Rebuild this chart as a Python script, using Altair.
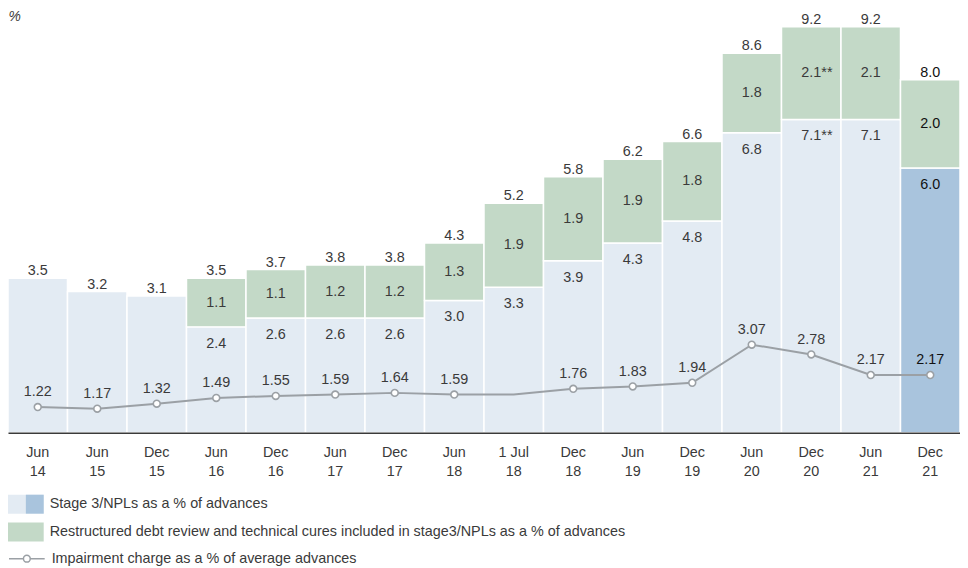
import altair as alt
import pandas as pd

categories = ["Jun 14", "Jun 15", "Dec 15", "Jun 16", "Dec 16", "Jun 17", "Dec 17", "Jun 18",
              "1 Jul 18", "Dec 18", "Jun 19", "Dec 19", "Jun 20", "Dec 20", "Jun 21", "Dec 21"]
stage3 = [3.5, 3.2, 3.1, 2.4, 2.6, 2.6, 2.6, 3.0, 3.3, 3.9, 4.3, 4.8, 6.8, 7.1, 7.1, 6.0]
restructured = [0, 0, 0, 1.1, 1.1, 1.2, 1.2, 1.3, 1.9, 1.9, 1.9, 1.8, 1.8, 2.1, 2.1, 2.0]
totals = [3.5, 3.2, 3.1, 3.5, 3.7, 3.8, 3.8, 4.3, 5.2, 5.8, 6.2, 6.6, 8.6, 9.2, 9.2, 8.0]
label_notes = ["", "", "", "", "", "", "", "", "", "", "", "", "", "**", "", ""]
impairment = [1.22, 1.17, 1.32, 1.49, 1.55, 1.59, 1.64, 1.59, 1.59, 1.76, 1.83, 1.94, 3.07, 2.78, 2.17, 2.17]
impairment_marked = [True, True, True, True, True, True, True, True, False,
                     True, True, True, True, True, True, True]

S3 = "Stage 3/NPLs as a % of advances"
RS = "Restructured debt review and technical cures included in stage3/NPLs as a % of advances"
LATEST = "Stage 3/NPLs (latest)"
IMP = "Impairment charge as a % of average advances"

FONT = "Liberation Sans"
TXT = "#3a3a3a"
DARK = "#111111"
LIGHT_BLUE = "#e3ebf3"
GREEN = "#c3d9c7"
DARK_BLUE = "#a9c4dd"
GREY = "#9ba0a5"

seg_rows = []
for i, c in enumerate(categories):
    s3name = LATEST if i == len(categories) - 1 else S3
    seg_rows.append({"cat": c, "seg": s3name, "y0": 0.0, "y1": stage3[i],
                     "label": (f"{stage3[i]:.1f}{label_notes[i]}" if restructured[i] > 0 else ""),
                     "kind": "s3"})
    if restructured[i] > 0:
        seg_rows.append({"cat": c, "seg": RS, "y0": stage3[i], "y1": stage3[i] + restructured[i],
                         "label": f"{restructured[i]:.1f}{label_notes[i]}", "kind": "rs"})
seg_df = pd.DataFrame(seg_rows)
seg_df["mid"] = (seg_df["y0"] + seg_df["y1"]) / 2
seg_df["dark_key"] = "latest"

tot_df = pd.DataFrame({"cat": categories, "total": totals,
                       "label": [f"{t:.1f}" for t in totals]})
imp_df = pd.DataFrame({"cat": categories, "imp": impairment, "marked": impairment_marked,
                       "label": [f"{v:.2f}" for v in impairment]})
imp_df["series"] = IMP

W, H = 960, 426
ybar = alt.Scale(domain=[0, 9.573], nice=False, zero=False)
yline = alt.Scale(domain=[0.456, 12.99], nice=False, zero=False)

xenc = alt.X("cat:N", sort=categories,
             scale=alt.Scale(paddingInner=0, paddingOuter=0),
             axis=alt.Axis(title=None, ticks=False, tickSize=0, labelAngle=0, labelPadding=13,
                           labelFont=FONT, labelFontSize=14.5, labelColor=TXT, labelLineHeight=19,
                           labelExpr="[slice(datum.label, 0, lastindexof(datum.label, ' ')), slice(datum.label, lastindexof(datum.label, ' ') + 1)]",
                           domainColor="#3a3a3a", domainWidth=1.5, grid=False, zindex=1))

rect_path = "M-1,-0.53H1V0.53H-1Z"
right_half = "M0,-0.53H1V0.53H0Z"
line_sym = "M-1,0H-0.19M0.19,0H1M0.19,0A0.19,0.19 0 1,1 -0.19,0A0.19,0.19 0 1,1 0.19,0Z"

bars = alt.Chart(seg_df).mark_bar(stroke="white", strokeWidth=1.5).encode(
    x=xenc,
    y=alt.Y("y0:Q", scale=ybar,
            axis=alt.Axis(title="%", labels=False, ticks=False, domain=False, grid=False,
                          titleAngle=0, titleX=0, titleY=-1, titleAlign="left", titleBaseline="top",
                          titleFont=FONT, titleFontSize=14, titleFontStyle="italic",
                          titleFontWeight="normal", titleColor=TXT)),
    y2="y1:Q",
    fill=alt.Fill("seg:N", scale=alt.Scale(domain=[S3, RS, LATEST], range=[LIGHT_BLUE, GREEN, DARK_BLUE]),
                  legend=alt.Legend(orient="none", legendX=0, legendY=480, title=None, values=[S3, RS],
                                    symbolType=rect_path, symbolSize=1296, symbolStrokeWidth=0,
                                    rowPadding=-9.5, labelOffset=6, labelFont=FONT, labelFontSize=14.5,
                                    labelColor=TXT, labelLimit=0, padding=0, zindex=0)),
    opacity=alt.Opacity("dark_key:O",
                        scale=alt.Scale(domain=["latest"], range=[1]),
                        legend=alt.Legend(orient="none", legendX=0, legendY=480, title=None,
                                          symbolType=right_half, symbolSize=1296, symbolStrokeWidth=0,
                                          symbolFillColor=DARK_BLUE, symbolOpacity=1,
                                          labelExpr="''", padding=0, zindex=2)),
)

seg_text_cond = alt.condition(alt.datum.cat == "Dec 21", alt.value(DARK), alt.value(TXT))

rs_labels = alt.Chart(seg_df).transform_filter(alt.datum.kind == "rs").mark_text(
    font=FONT, fontSize=14.5, align="left", dx=-10, baseline="middle").encode(
    x=alt.X("cat:N", sort=categories), y=alt.Y("mid:Q", scale=ybar), text="label:N",
    color=seg_text_cond)

s3_labels = alt.Chart(seg_df).transform_filter(
    (alt.datum.kind == "s3") & (alt.datum.label != "")).mark_text(
    font=FONT, fontSize=14.5, align="left", dx=-10, dy=17, baseline="middle").encode(
    x=alt.X("cat:N", sort=categories), y=alt.Y("y1:Q", scale=ybar), text="label:N",
    color=seg_text_cond)

tot_labels = alt.Chart(tot_df).mark_text(
    font=FONT, fontSize=14.5, align="left", dx=-10, dy=-3, baseline="alphabetic").encode(
    x=alt.X("cat:N", sort=categories), y=alt.Y("total:Q", scale=ybar), text="label:N",
    color=seg_text_cond)

bar_layer = alt.layer(bars, rs_labels, s3_labels, tot_labels)

line = alt.Chart(imp_df).mark_line(strokeWidth=2).encode(
    x=alt.X("cat:N", sort=categories),
    y=alt.Y("imp:Q", scale=yline, axis=None),
    stroke=alt.Stroke("series:N", scale=alt.Scale(domain=[IMP], range=[GREY]),
                      legend=alt.Legend(orient="none", legendX=0, legendY=534, title=None,
                                        symbolType=line_sym, symbolSize=1296, symbolStrokeWidth=1.5,
                                        symbolFillColor="white", labelOffset=6, labelFont=FONT,
                                        labelFontSize=14.5, labelColor=TXT, labelLimit=0, padding=0)),
)

points = alt.Chart(imp_df).transform_filter(alt.datum.marked).mark_point(
    shape="circle", filled=True, fill="white", stroke=GREY, strokeWidth=1.6, size=48, opacity=1).encode(
    x=alt.X("cat:N", sort=categories), y=alt.Y("imp:Q", scale=yline, axis=None))

imp_labels = alt.Chart(imp_df).transform_filter(alt.datum.marked).mark_text(
    font=FONT, fontSize=14.5, baseline="middle", dy=-15).encode(
    x=alt.X("cat:N", sort=categories), y=alt.Y("imp:Q", scale=yline, axis=None), text="label:N",
    color=seg_text_cond)

line_layer = alt.layer(line, points, imp_labels)

chart = alt.layer(bar_layer, line_layer).resolve_scale(y="independent").properties(
    width=W, height=H,
    autosize=alt.AutoSizeParams(type="none"),
    padding={"left": 0, "top": 0, "right": 0, "bottom": 134},
).configure(font=FONT).configure_view(stroke=None)

chart.save("out.html", embed_options={"renderer": "svg", "actions": False})
